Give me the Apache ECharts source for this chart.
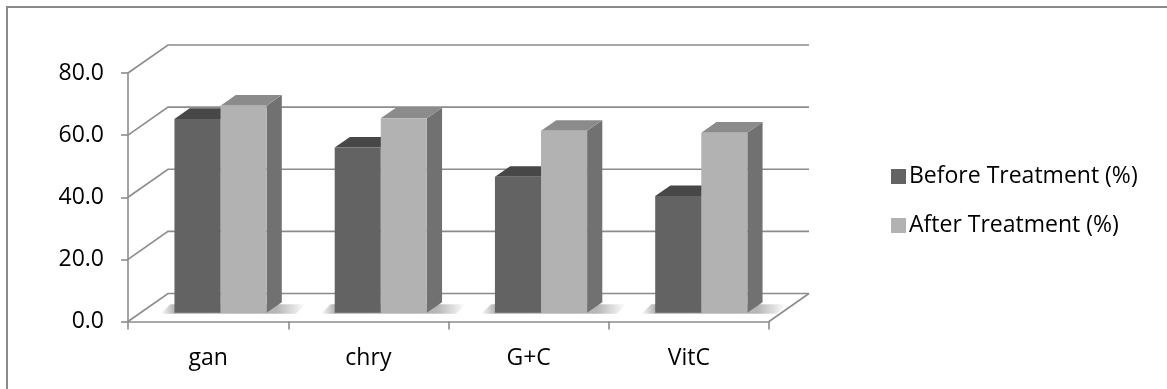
<!DOCTYPE html>
<html>
<head>
<meta charset="utf-8">
<script src="https://cdn.jsdelivr.net/npm/echarts@6/dist/echarts.min.js"></script>
<style>
  html, body { margin: 0; padding: 0; background: #ffffff; }
  #chart { width: 1167px; height: 389px; }
</style>
</head>
<body>
<div id="chart"></div>
<script>
// Treatment groups and their percentages
var categories = ['gan', 'chry', 'G+C', 'VitC'];
var beforeTreatment = [62.4, 53.2, 43.8, 37.6];
var afterTreatment = [66.7, 62.6, 58.6, 58.0];
var yTicks = [0, 20, 40, 60, 80];
var seriesNames = ['Before Treatment (%)', 'After Treatment (%)'];

// Oblique projection used to fake the 3D look
var DEPTH = [40, -28];        // pixel offset from front plane to back wall
var BAR_FRONT = 0.31;         // where the bar front sits inside the floor depth
var BAR_DEPTH = 0.38;         // bar depth as a share of the floor depth
var BAR_SHARE = 0.2875;       // bar width as a share of a category band

var FONT = 'Open Sans';
var FONT_SIZE = 23;
var GRID_COLOR = '#8c8c8c';

var faces = [
  { front: '#636363', top: '#474747', side: '#555555' },
  { front: '#b2b2b2', top: '#8b8b8b', side: '#717171' }
];

var chart = echarts.init(document.getElementById('chart'));

function pairs(values) {
  return values.map(function (v, i) { return [i, v]; });
}

// Back wall grid lines, left wall diagonals and floor outline
function renderWalls(params, api) {
  var v = api.value(1);
  var band = api.size([1, 0])[0];
  var left = api.coord([0, v]);
  var right = api.coord([categories.length - 1, v]);
  var x0 = left[0] - band / 2;
  var x1 = right[0] + band / 2;
  var y = left[1];
  var style = { stroke: GRID_COLOR, lineWidth: 1.6, fill: null };
  var children = [
    { type: 'polyline', shape: { points: [[x0, y], [x0 + DEPTH[0], y + DEPTH[1]], [x1 + DEPTH[0], y + DEPTH[1]]] }, style: style }
  ];
  if (v === 0) {
    children.push({ type: 'line', shape: { x1: x1, y1: y, x2: x1 + DEPTH[0], y2: y + DEPTH[1] }, style: style });
  }
  return { type: 'group', children: children };
}

// Soft shadow on the floor under each pair of bars
function renderShadow(params, api) {
  var idx = api.value(0);
  var band = api.size([1, 0])[0];
  var bw = band * BAR_SHARE;
  var base = api.coord([idx, 0]);
  var fx = DEPTH[0] * BAR_FRONT, fy = DEPTH[1] * BAR_FRONT;
  var bdx = DEPTH[0] * BAR_DEPTH, bdy = DEPTH[1] * BAR_DEPTH;
  var xa = base[0] - bw + fx - 14;
  var xb = base[0] + bw + fx + bdx + 24;
  var yf = base[1] + fy + 1;
  var yb = base[1] + fy + bdy + 2;
  return {
    type: 'polygon',
    shape: { points: [[xa, yf], [xb - 10, yf], [xb, yb], [xa + 10, yb]] },
    style: {
      fill: new echarts.graphic.LinearGradient(0, 0, 1, 0, [
        { offset: 0, color: 'rgba(110,110,110,0)' },
        { offset: 0.1, color: 'rgba(110,110,110,0.55)' },
        { offset: 0.8, color: 'rgba(110,110,110,0.5)' },
        { offset: 1, color: 'rgba(110,110,110,0)' }
      ])
    },
    silent: true
  };
}

function makeBarRenderer(s) {
  return function (params, api) {
    var idx = api.value(0);
    var val = api.value(1);
    var band = api.size([1, 0])[0];
    var bw = band * BAR_SHARE;
    var base = api.coord([idx, 0]);
    var top = api.coord([idx, val]);
    var fx = DEPTH[0] * BAR_FRONT, fy = DEPTH[1] * BAR_FRONT;
    var bdx = DEPTH[0] * BAR_DEPTH, bdy = DEPTH[1] * BAR_DEPTH;
    var x0 = base[0] - bw + s * bw + fx;
    var x1 = x0 + bw;
    var yT = top[1] + fy;
    var yB = base[1] + fy;
    var c = faces[s];
    return {
      type: 'group',
      children: [
        { type: 'polygon', shape: { points: [[x1, yT], [x1 + bdx, yT + bdy], [x1 + bdx, yB + bdy], [x1, yB]] }, style: { fill: c.side } },
        { type: 'polygon', shape: { points: [[x0, yT], [x1, yT], [x1 + bdx, yT + bdy], [x0 + bdx, yT + bdy]] }, style: { fill: c.top } },
        { type: 'rect', shape: { x: x0, y: yT, width: bw, height: yB - yT }, style: { fill: c.front } }
      ]
    };
  };
}

var option = {
  animation: false,
  backgroundColor: '#ffffff',
  textStyle: { fontFamily: FONT },
  graphic: [
    {
      type: 'rect',
      shape: { x: 7, y: 7, width: 1300, height: 500 },
      style: { fill: null, stroke: '#8a8a8a', lineWidth: 2 },
      silent: true,
      z: -10
    }
  ],
  legend: {
    orient: 'vertical',
    left: 886,
    top: 160,
    itemWidth: 15,
    itemHeight: 15,
    itemGap: 26,
    icon: 'rect',
    data: seriesNames,
    textStyle: { fontFamily: FONT, fontSize: FONT_SIZE, color: '#000000', padding: [0, 0, 0, -2] }
  },
  grid: { left: 128, right: 398, top: 73, bottom: 67.5 },
  xAxis: {
    type: 'category',
    data: categories,
    boundaryGap: true,
    axisLine: { show: true, lineStyle: { color: GRID_COLOR, width: 1.6 } },
    axisTick: { show: true, length: 8, lineStyle: { color: GRID_COLOR, width: 1.6 } },
    axisLabel: { margin: 25, fontFamily: FONT, fontSize: FONT_SIZE, color: '#000000' },
    splitLine: { show: false }
  },
  yAxis: {
    type: 'value',
    min: 0,
    max: 80,
    interval: 20,
    axisLine: { show: true, lineStyle: { color: GRID_COLOR, width: 1.6 } },
    axisTick: { show: true, length: 7, lineStyle: { color: GRID_COLOR, width: 1.6 } },
    axisLabel: {
      margin: 24,
      fontFamily: FONT,
      fontSize: FONT_SIZE,
      color: '#000000',
      formatter: function (v) { return v.toFixed(1); }
    },
    splitLine: { show: false }
  },
  series: [
    {
      name: 'walls',
      type: 'custom',
      renderItem: renderWalls,
      data: yTicks.map(function (v) { return [0, v]; }),
      encode: { x: 0, y: 1 },
      silent: true,
      z: 1
    },
    {
      name: 'shadow',
      type: 'custom',
      renderItem: renderShadow,
      data: pairs(afterTreatment),
      encode: { x: 0, y: 1 },
      silent: true,
      z: 2
    },
    {
      name: seriesNames[0],
      type: 'custom',
      renderItem: makeBarRenderer(0),
      data: pairs(beforeTreatment),
      encode: { x: 0, y: 1 },
      itemStyle: { color: faces[0].front },
      z: 3
    },
    {
      name: seriesNames[1],
      type: 'custom',
      renderItem: makeBarRenderer(1),
      data: pairs(afterTreatment),
      encode: { x: 0, y: 1 },
      itemStyle: { color: faces[1].front },
      z: 4
    }
  ]
};

chart.setOption(option);
</script>
</body>
</html>
